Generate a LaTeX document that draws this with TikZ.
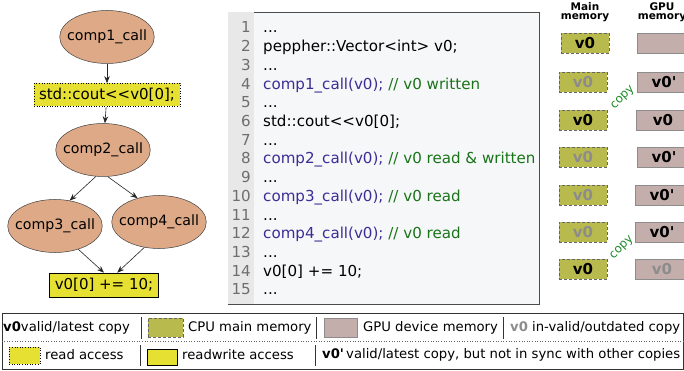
\documentclass[tikz,border=0pt]{standalone}
\usepackage{fontspec}
\newfontfamily\djv{DejaVu Sans}
\usetikzlibrary{arrows.meta,shapes.geometric}
\definecolor{callfill}{RGB}{222,169,135}
\definecolor{yel}{RGB}{230,224,50}
\definecolor{cpufill}{RGB}{185,186,78}
\definecolor{gpufill}{RGB}{195,174,171}
\definecolor{codepurple}{RGB}{60,45,150}
\definecolor{codegreen}{RGB}{25,115,25}
\definecolor{copygreen}{RGB}{30,140,40}
\definecolor{codebg}{RGB}{246,247,249}
\definecolor{numbg}{RGB}{232,232,232}
\definecolor{numgray}{RGB}{110,110,110}
\definecolor{stale}{RGB}{140,140,140}
\newcommand{\fs}[1]{\fontsize{#1}{#1}\selectfont}
\begin{document}
\begin{tikzpicture}[x=1pt,y=-1pt,font=\djv,
  callnode/.style={ellipse,draw=black!75,line width=0.5pt,fill=callfill,minimum width=94pt,minimum height=53pt,inner xsep=-6.5pt,inner ysep=0pt,font=\djv\fs{14.2}},
  readbox/.style={draw=black,dotted,line width=0.6pt,fill=yel,inner sep=0pt,minimum height=23pt,font=\djv\fs{15}},
  rwbox/.style={draw=black,line width=0.7pt,fill=yel,inner sep=0pt,minimum height=24pt,font=\djv\fs{15}},
  arr/.style={-{Stealth[length=7pt,width=5.5pt]},draw=black!85,line width=0.6pt},
  codeline/.style={anchor=base west,inner sep=0pt,font=\djv\fs{15.1}},
  lnum/.style={anchor=base east,inner sep=0pt,text=numgray,font=\djv\fs{15.1}},
  cpubox/.style={draw=black!60,densely dashed,line width=0.6pt,fill=cpufill,minimum width=48pt,minimum height=20pt,inner sep=0pt,font=\djv\bfseries\fs{15}},
  gpubox/.style={draw=black!45,line width=0.6pt,fill=gpufill,minimum width=54pt,minimum height=20pt,inner sep=0pt,font=\djv\bfseries\fs{15}},
  copylbl/.style={rotate=45,text=copygreen,inner sep=0pt,font=\djv\fs{11.8}},
  hdr/.style={align=center,inner sep=0pt,font=\djv\bfseries\fs{10.5}},
  legtext/.style={anchor=west,inner sep=0pt,font=\djv\fs{13.2}},
  legsep/.style={draw=black!80,line width=0.7pt}
]
\useasboundingbox (0,0) rectangle (684,371);

% ---------- task graph ----------
\node[callnode] (c1) at (107,37) {comp1\_call};
\node[readbox,minimum width=146pt] (cout) at (107,95) {std::cout<{}<v0[0];};
\node[callnode] (c2) at (103,150) {comp2\_call};
\node[callnode] (c3) at (55,226) {comp3\_call};
\node[callnode] (c4) at (159,222) {comp4\_call};
\node[rwbox,minimum width=109pt] (res) at (104,285) {v0[0] += 10;};
\draw[arr] (c1) -- (cout);
\draw[arr] (cout) -- (c2);
\draw[arr] (c2.255) -- (c3.60);
\draw[arr] (c2.280) -- (c4.132);
\draw[arr] (c3.-45) -- (res.north);
\draw[arr] (c4.240) -- (res.43);

% ---------- code listing ----------
\node[draw=black!70,line width=0.9pt,fill=codebg,minimum width=311pt,minimum height=292pt,inner sep=0pt] (code) at (383.5,158) {};
\fill[numbg] ([shift={(0.45pt,-0.45pt)}]code.north west) rectangle (254,303.5);
\foreach \i in {1,...,15}{
  \node[lnum] (n\i) at (251,{33+(\i-1)*18.7}) {\i};
}
\node[codeline] (l1) at (263,33) {...};
\node[codeline] (l2) at (263,51.7) {peppher::Vector<int> v0;};
\node[codeline] (l3) at (263,70.4) {...};
\node[codeline] (l4) at (263,89.1) {\textcolor{codepurple}{comp1\_call(v0);} \textcolor{codegreen}{// v0 written}};
\node[codeline] (l5) at (263,107.8) {...};
\node[codeline] (l6) at (263,126.5) {std::cout<{}<v0[0];};
\node[codeline] (l7) at (263,145.2) {...};
\node[codeline] (l8) at (263,163.9) {\textcolor{codepurple}{comp2\_call(v0);} \textcolor{codegreen}{// v0 read \& written}};
\node[codeline] (l9) at (263,182.6) {...};
\node[codeline] (l10) at (263,201.3) {\textcolor{codepurple}{comp3\_call(v0);} \textcolor{codegreen}{// v0 read}};
\node[codeline] (l11) at (263,220) {...};
\node[codeline] (l12) at (263,238.7) {\textcolor{codepurple}{comp4\_call(v0);} \textcolor{codegreen}{// v0 read}};
\node[codeline] (l13) at (263,257.4) {...};
\node[codeline] (l14) at (263,276.1) {v0[0] += 10;};
\node[codeline] (l15) at (263,294.8) {...};

% ---------- memory states ----------
\node[hdr] (hm) at (585,12) {Main\\[-1pt]memory};
\node[hdr] (hg) at (662,12) {GPU\\[-1pt]memory};

\node[cpubox] (m1) at (585,43) {v0};
\node[cpubox,text=stale] (m2) at (583,82) {v0};
\node[cpubox] (m3) at (583,120) {v0};
\node[cpubox,text=stale] (m4) at (583,157) {v0};
\node[cpubox,text=stale] (m5) at (583,195) {v0};
\node[cpubox,text=stale] (m6) at (583,232) {v0};
\node[cpubox] (m7) at (583,269) {v0};

\node[gpubox] (g1) at (664,43) {};
\node[gpubox] (g2) at (664,82) {v0\textquotesingle};
\node[gpubox] (g3) at (663,120) {v0};
\node[gpubox] (g4) at (664,157) {v0\textquotesingle};
\node[gpubox] (g5) at (662,195) {v0\textquotesingle};
\node[gpubox] (g6) at (662,232) {v0\textquotesingle};
\node[gpubox,text=stale] (g7) at (662,269) {v0};

\node[copylbl] (cp1) at (623,98) {copy};
\node[copylbl] (cp2) at (622,248) {copy};

% ---------- legend ----------
\node[draw=black!80,line width=0.7pt,minimum width=681pt,minimum height=56pt,inner sep=0pt] (leg) at (342.5,341) {};
\draw[black!60,dotted,line width=0.6pt] (leg.west) -- (leg.east);

\node[legtext] (t1) at (3,328) {\textbf{v0}valid/latest copy};
\draw[legsep] (141,317) -- (141,339);
\node[cpubox,minimum width=35pt,minimum height=19pt] (k1) at (165.5,327.5) {};
\node[legtext] (t2) at (188,328) {CPU main memory};
\draw[legsep] (316,317) -- (316,339);
\node[gpubox,minimum width=33pt,minimum height=19pt] (k2) at (340.5,327.5) {};
\node[legtext] (t3) at (363,328) {GPU device memory};
\draw[legsep] (503,317) -- (503,339);
\node[legtext] (t4) at (510,328) {\textbf{\textcolor{stale}{v0}} in-valid/outdated copy};

\node[readbox,minimum width=31pt,minimum height=17pt] (k3) at (24.5,355.5) {};
\node[legtext] (t5) at (45,355) {read access};
\draw[legsep] (140,345) -- (140,366);
\node[rwbox,minimum width=30pt,minimum height=16pt] (k4) at (162,357) {};
\node[legtext] (t6) at (182,355) {readwrite access};
\draw[legsep] (315,345) -- (315,366);
\node[legtext] (t7) at (322,355) {\textbf{v0\textquotesingle}\,valid/latest copy, but not in sync with other copies};
\end{tikzpicture}
\end{document}
